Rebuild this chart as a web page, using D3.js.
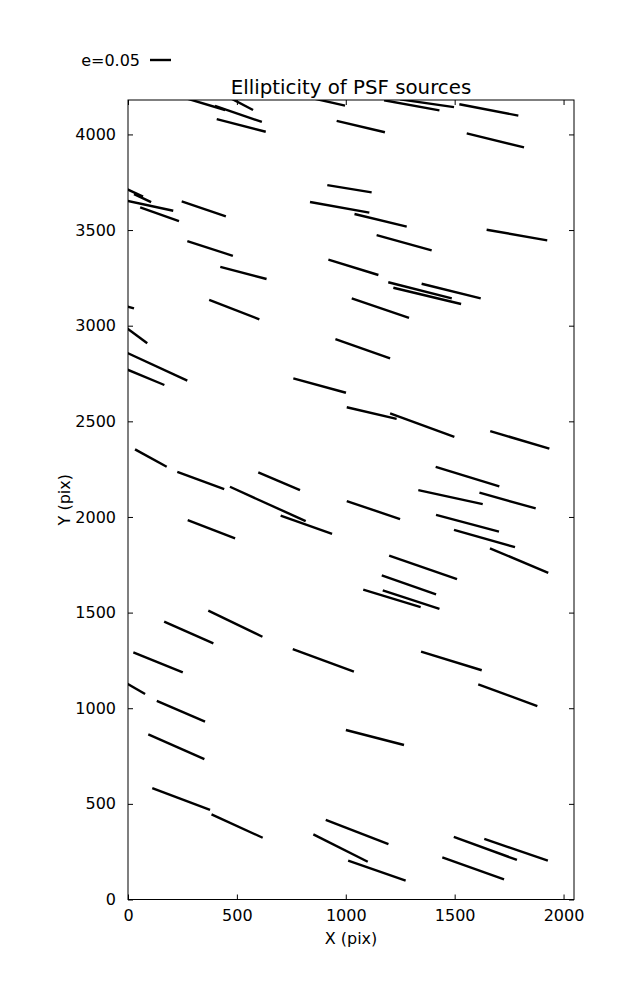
<!DOCTYPE html>
<html>
<head>
<meta charset="utf-8">
<script src="https://cdn.jsdelivr.net/npm/d3@7"></script>
<style>
  html, body { margin: 0; padding: 0; background: #fff; }
  text { font-family: "DejaVu Sans", sans-serif; fill: #000; }
</style>
</head>
<body>
<div id="chart"></div>
<script>
// ---- data (source positions in detector pixels, ellipticity, position angle in degrees) ----
const srcX = [354,507,517,520,875,1069,1303,1373,1657,1687,21,67,88,145,348,377,530,1017,972,1035,1160,1268,1786,1341,1374,1484,1159,-23,488,21,127,70,880,1078,1119,1351,1799,105,334,642,694,1559,1481,1743,819,1127,383,1559,1637,1796,1355,1290,1300,1212,493,279,138,21,897,1485,1744,243,222,1134,244,501,1052,976,1143,1641,1782,1585];
const srcY = [4159,4107,4162,4047,4182,4041,4152,4163,4128,3969,3700,3667,3630,3583,3611,3404,3276,3716,3619,3305,3551,3434,3474,3185,3156,3181,3092,3107,3084,2965,2789,2736,2687,2880,2543,2480,2403,2308,2191,2068,2187,2211,2104,2086,1959,2036,1936,1967,1887,1772,1736,1645,1568,1574,1442,1396,1240,1112,1250,1247,1068,984,799,847,525,384,353,269,151,267,260,163];
const srcE = [0.0995,0.118,0.067,0.1205,0.1295,0.118,0.134,0.130,0.143,0.1405,0.055,0.045,0.127,0.098,0.111,0.114,0.114,0.107,0.1435,0.1245,0.128,0.136,0.1465,0.156,0.166,0.145,0.144,0.0545,0.128,0.087,0.166,0.109,0.130,0.138,0.122,0.163,0.147,0.086,0.119,0.198,0.108,0.1585,0.157,0.139,0.130,0.134,0.121,0.155,0.151,0.1505,0.171,0.137,0.142,0.143,0.143,0.128,0.127,0.069,0.155,0.151,0.150,0.125,0.146,0.143,0.147,0.134,0.160,0.145,0.145,0.160,0.160,0.156];
const srcTheta = [-16.7,-18.8,-27.5,-14.5,-12.9,-13.2,-10.4,-8.1,-10.9,-13.7,-24.8,-25.2,-12.1,-19.4,-18.7,-17.9,-14.8,-9.3,-10.2,-17.0,-13.6,-15.5,-9.9,-14.2,-13.5,-13.9,-18.7,-16.0,-21.1,-36.6,-24.8,-22.6,-15.3,-19.4,-13.2,-20.2,-16.6,-28.8,-20.2,-24.4,-23.0,-17.1,-12.3,-15.5,-19.6,-18.7,-21.2,-14.8,-15.8,-22.7,-19.1,-19.3,-18.0,-17.0,-25.7,-23.7,-22.0,-30.1,-20.1,-17.0,-20.2,-23.2,-23.8,-14.5,-20.6,-24.6,-21.0,-26.7,-19.2,-20.0,-18.9,-19.6];
const xTicks = [0,500,1000,1500,2000];
const yTicks = [0,500,1000,1500,2000,2500,3000,3500,4000];
const keyE = 0.05;
const keyLabel = "e=0.05";
const titleText = "Ellipticity of PSF sources";
const xLabel = "X (pix)";
const yLabel = "Y (pix)";

// ---- layout ----
const W = 637, H = 1000;
const L = 128, R = 574, T = 100, B = 899.5;

const svg = d3.select("#chart").append("svg")
  .attr("width", W).attr("height", H)
  .attr("viewBox", `0 0 ${W} ${H}`);

const x = d3.scaleLinear().domain([0, 2048]).range([L, R]);
const y = d3.scaleLinear().domain([0, 4180]).range([B, T]);
const len = d3.scaleLinear().domain([0, keyE]).range([0, 21]);

svg.append("defs").append("clipPath").attr("id", "plotclip")
  .append("rect").attr("x", L).attr("y", T).attr("width", R - L).attr("height", B - T);

const data = srcX.map((d, i) => ({x: d, y: srcY[i], e: srcE[i], t: srcTheta[i]}));

// whiskers
svg.append("g").attr("clip-path", "url(#plotclip)")
  .selectAll("line").data(data).join("line")
  .attr("x1", d => x(d.x) - len(d.e) / 2 * Math.cos(d.t * Math.PI / 180))
  .attr("y1", d => y(d.y) + len(d.e) / 2 * Math.sin(d.t * Math.PI / 180))
  .attr("x2", d => x(d.x) + len(d.e) / 2 * Math.cos(d.t * Math.PI / 180))
  .attr("y2", d => y(d.y) - len(d.e) / 2 * Math.sin(d.t * Math.PI / 180))
  .attr("stroke", "#000").attr("stroke-width", 2.4).attr("stroke-linecap", "butt");

// axes (ticks inside, on all four sides)
const tickLen = 5;
const axB = svg.append("g").attr("transform", `translate(0,${B})`)
  .call(d3.axisBottom(x).tickValues(xTicks).tickFormat(d3.format("d")).tickSizeInner(-tickLen).tickSizeOuter(0).tickPadding(10));
const axT = svg.append("g").attr("transform", `translate(0,${T})`)
  .call(d3.axisTop(x).tickValues(xTicks).tickFormat("").tickSizeInner(-tickLen).tickSizeOuter(0));
const axL = svg.append("g").attr("transform", `translate(${L},0)`)
  .call(d3.axisLeft(y).tickValues(yTicks).tickFormat(d3.format("d")).tickSizeInner(-tickLen).tickSizeOuter(0).tickPadding(12));
const axR = svg.append("g").attr("transform", `translate(${R},0)`)
  .call(d3.axisRight(y).tickValues(yTicks).tickFormat("").tickSizeInner(-tickLen).tickSizeOuter(0));

[axB, axT, axL, axR].forEach(g => {
  g.select(".domain").remove();
  g.selectAll("line").attr("stroke", "#000").attr("stroke-width", 1);
  g.selectAll("text").style("font-family", "'DejaVu Sans', sans-serif").style("font-size", "16px").attr("fill", "#000");
});

// frame
svg.append("rect").attr("x", L).attr("y", T).attr("width", R - L).attr("height", B - T)
  .attr("fill", "none").attr("stroke", "#000").attr("stroke-width", 1);

// title and labels
svg.append("text").attr("x", (L + R) / 2).attr("y", 93.5).attr("text-anchor", "middle")
  .style("font-size", "19.8px").text(titleText);
svg.append("text").attr("x", (L + R) / 2).attr("y", 944).attr("text-anchor", "middle")
  .style("font-size", "16px").text(xLabel);
svg.append("text").attr("transform", `translate(70,${(T + B) / 2}) rotate(-90)`).attr("text-anchor", "middle")
  .style("font-size", "16px").text(yLabel);

// key
svg.append("text").attr("x", 140).attr("y", 65.5).attr("text-anchor", "end")
  .style("font-size", "16px").text(keyLabel);
svg.append("line").attr("x1", 150).attr("x2", 150 + len(keyE)).attr("y1", 60).attr("y2", 60)
  .attr("stroke", "#000").attr("stroke-width", 2.4);
</script>
</body>
</html>
